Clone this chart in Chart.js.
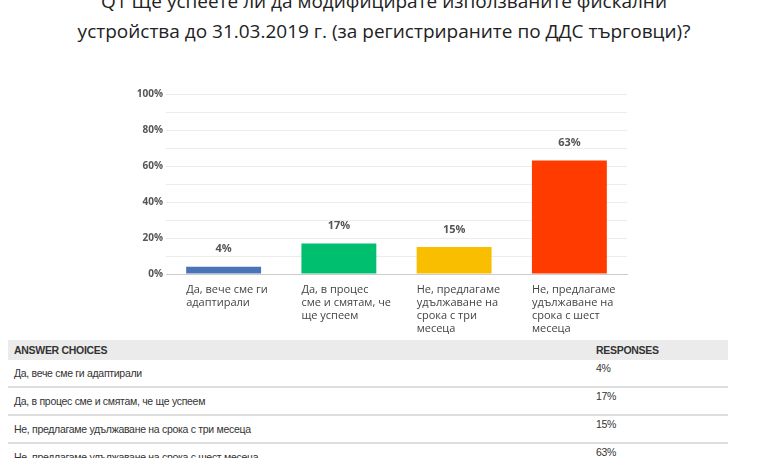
<!DOCTYPE html>
<html>
<head>
<meta charset="utf-8">
<script src="https://cdn.jsdelivr.net/npm/chart.js@4"></script>
<style>
  body { margin: 0; width: 768px; height: 458px; overflow: hidden; background: #fff; position: relative; font-family: "Open Sans", sans-serif; }
  #title { position: absolute; top: -14px; left: 0; width: 768px; text-align: center; font-size: 19px; line-height: 30px; color: #222; }
  #wrap { position: absolute; left: 0; top: 0; width: 768px; height: 458px; }
  table { position: absolute; left: 8px; top: 340px; width: 720px; border-collapse: collapse; font-family: "Liberation Sans Narrow", "Liberation Sans", sans-serif; font-size: 10.5px; letter-spacing: -0.3px; color: #333; }
  th { background: #ebebeb; text-align: left; font-weight: bold; height: 20px; padding: 0 0 0 6px; color: #333; }
  td { height: 24px; padding: 0 0 0 6px; border-bottom: 2px solid #ddd; vertical-align: middle; }
  td.r { vertical-align: top; padding-top: 2px; }
</style>
</head>
<body>
<div id="title">Q1 Ще успеете ли да модифицирате използваните фискални<br>устройства до 31.03.2019 г. (за регистрираните по ДДС търговци)?</div>
<table id="tbl">
  <tr><th>ANSWER CHOICES</th><th style="width:132px">RESPONSES</th></tr>
</table>
<div id="wrap"><canvas id="chart"></canvas></div>
<script>
const categories = [
  ["Да, вече сме ги", "адаптирали"],
  ["Да, в процес", "сме и смятам, че", "ще успеем"],
  ["Не, предлагаме", "удължаване на", "срока с три", "месеца"],
  ["Не, предлагаме", "удължаване на", "срока с шест", "месеца"]
]
const tableLabels = [
  "Да, вече сме ги адаптирали",
  "Да, в процес сме и смятам, че ще успеем",
  "Не, предлагаме удължаване на срока с три месеца",
  "Не, предлагаме удължаване на срока с шест месеца"
]
const values = [4, 17, 15, 63]
const colors = ["#4a74b8", "#00bf6f", "#f9be00", "#ff3b00"]

// table rows
const tbl = document.getElementById("tbl")
tableLabels.forEach((t, i) => {
  const tr = document.createElement("tr")
  tr.innerHTML = "<td>" + t + "</td><td class='r'>" + values[i] + "%</td>"
  tbl.appendChild(tr)
})

// value labels above bars and wrapped category labels under them
const barText = {
  id: "barText",
  afterDatasetsDraw(chart) {
    const ctx = chart.ctx
    const meta = chart.getDatasetMeta(0)
    ctx.save()
    meta.data.forEach((bar, i) => {
      ctx.fillStyle = "#555"
      ctx.font = "bold 11px 'Open Sans', sans-serif"
      ctx.textAlign = "center"
      ctx.textBaseline = "bottom"
      ctx.fillText(values[i] + "%", bar.x, bar.y - 12)
      ctx.fillStyle = "#444"
      ctx.font = "11px 'Open Sans', sans-serif"
      ctx.textAlign = "left"
      ctx.textBaseline = "top"
      categories[i].forEach((line, j) => {
        ctx.fillText(line, bar.x - bar.width / 2, chart.chartArea.bottom + 10 + j * 13)
      })
    })
    ctx.restore()
  }
}

new Chart(document.getElementById("chart"), {
  type: "bar",
  data: {
    labels: categories.map((c) => c.join(" ")),
    datasets: [{ data: values, backgroundColor: colors, categoryPercentage: 1, barPercentage: 0.65 }]
  },
  options: {
    responsive: true,
    maintainAspectRatio: false,
    animation: false,
    layout: { padding: { left: 120, top: 94, right: 141, bottom: 184 } },
    plugins: { legend: { display: false }, tooltip: { enabled: false } },
    scales: {
      x: {
        ticks: { display: false },
        grid: { display: false },
        border: { color: "#ccc" },
        afterFit: (s) => { s.height = 0 }
      },
      y: {
        min: 0, max: 100,
        ticks: {
          stepSize: 10,
          color: "#555",
          font: { size: 10, weight: "bold", family: "'Open Sans', sans-serif" },
          callback: (v) => (v % 20 === 0 ? v + "%" : "")
        },
        grid: { color: "#ececec", drawTicks: false },
        border: { display: false },
        afterFit: (s) => { s.width = 46 }
      }
    }
  },
  plugins: [barText]
})
</script>
</body>
</html>
